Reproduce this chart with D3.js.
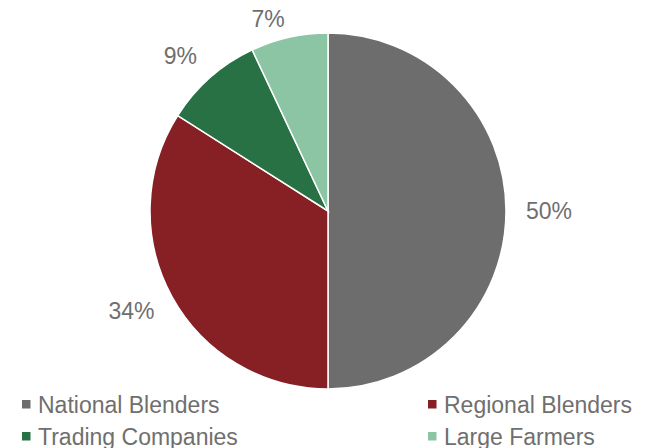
<!DOCTYPE html>
<html>
<head>
<meta charset="utf-8">
<script src="https://cdn.jsdelivr.net/npm/d3@7"></script>
<style>
  body { margin: 0; background: #fff; }
  text { font-family: "Liberation Sans", Arial, sans-serif; fill: #6f6f6f; }
</style>
</head>
<body>
<div id="chart"></div>
<script>
// Chart data
const categories = ["National Blenders", "Regional Blenders", "Trading Companies", "Large Farmers"];
const shares = [50, 34, 9, 7];
const colors = ["#6d6d6d", "#862025", "#277145", "#8bc5a3"];

const width = 650, height = 448;
const cx = 328, cy = 211, radius = 178;
const fontSize = 23;

const svg = d3.select("#chart").append("svg")
    .attr("width", width)
    .attr("height", height);

const pie = d3.pie().sort(null).value(d => d);
const arcs = pie(shares);

const arc = d3.arc().innerRadius(0).outerRadius(radius);

const g = svg.append("g")
    .attr("transform", "translate(" + cx + "," + cy + ")");

// Slices
g.selectAll(".slice")
    .data(arcs)
    .enter().append("path")
    .attr("class", "slice")
    .attr("d", arc)
    .style("fill", (d, i) => colors[i])
    .style("stroke", "#fff")
    .style("stroke-width", 1.5);

// Labels at outside end: box pushed away from the arc edge, kept inside the top
const gap = 20, halfH = 9, capH = fontSize * 0.716;
g.selectAll(".label")
    .data(arcs)
    .enter().append("text")
    .attr("class", "label")
    .attr("text-anchor", "middle")
    .style("font-size", fontSize + "px")
    .text(d => d.data + "%")
    .attr("transform", function(d) {
        const a = (d.startAngle + d.endAngle) / 2;
        const sx = Math.sin(a), sy = -Math.cos(a);
        const halfW = this.getComputedTextLength() / 2;
        const x = sx * radius + Math.sign(sx) * halfW + sx * gap;
        let y = sy * radius + sy * (halfH + gap);
        y = Math.max(y, 19 - cy); // keep label inside the chart area
        return "translate(" + x + "," + (y + capH / 2) + ")";
    });

// Legend, 2 columns
const legend = svg.append("g");
const colX = [22, 428], rowY = [412.5, 444.5];

const items = legend.selectAll(".item")
    .data(categories)
    .enter().append("g")
    .attr("class", "item")
    .attr("transform", (d, i) => "translate(" + colX[i % 2] + "," + rowY[Math.floor(i / 2)] + ")");

items.append("rect")
    .attr("x", 0)
    .attr("y", -12.5)
    .attr("width", 8.5)
    .attr("height", 8.5)
    .style("fill", (d, i) => colors[i]);

items.append("text")
    .attr("x", 16)
    .attr("y", 0)
    .style("font-size", fontSize + "px")
    .text(d => d);
</script>
</body>
</html>
